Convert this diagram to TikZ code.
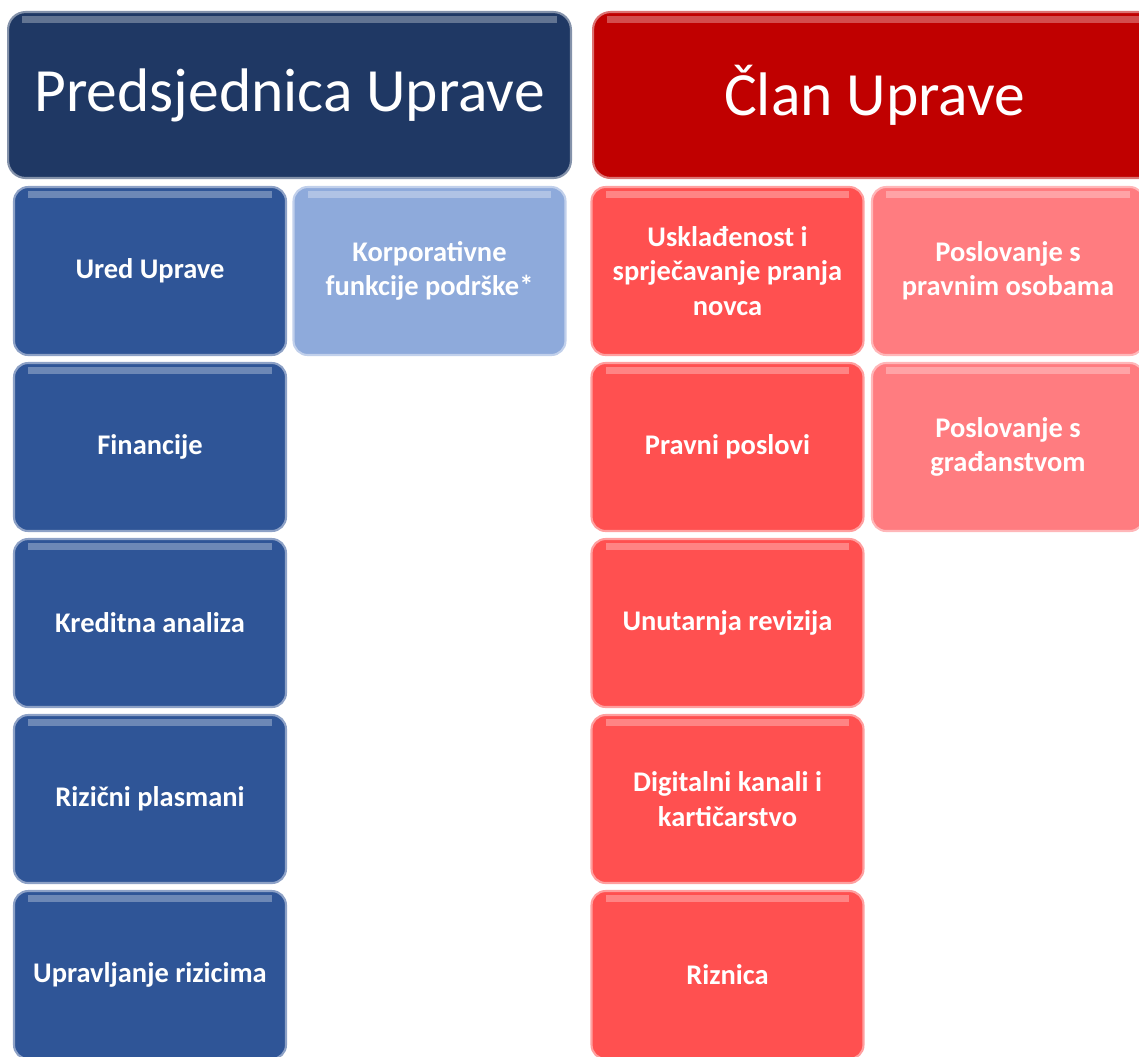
\documentclass[tikz,border=0pt]{standalone}
\usepackage{fontspec}
\setmainfont{Carlito}
\usetikzlibrary{positioning}
\definecolor{presnavy}{HTML}{1F3864}
\definecolor{clanred}{HTML}{C00000}
\definecolor{unitblue}{HTML}{2F5597}
\definecolor{supblue}{HTML}{8EAADB}
\definecolor{unitred}{HTML}{FF5050}
\definecolor{supred}{HTML}{FF7C80}

\begin{document}
\begin{tikzpicture}[x=0.02cm,y=-0.02cm,
  gloss/.style={path picture={
    \fill[white,opacity=0.3,sharp corners] ([xshift=8pt,yshift=-2.5pt]path picture bounding box.north west)
      rectangle ([xshift=-8pt,yshift=-6pt]path picture bounding box.north east);}},
  head/.style={gloss,rounded corners=10pt,line width=1.2pt,minimum width=11.26cm,
    minimum height=3.32cm,text=white,font=\fontsize{35}{42}\selectfont},
  unit/.style={gloss,rounded corners=8pt,line width=1.2pt,minimum width=5.44cm,
    minimum height=3.36cm,text=white,align=center,
    font=\bfseries\fontsize{16.2}{19.5}\selectfont},
  bluebox/.style={unit,fill=unitblue,draw=unitblue!55!white},
  redbox/.style={unit,fill=unitred,draw=unitred!55!white}]
\useasboundingbox (0,0) rectangle (1139,1056);
\clip (0,0) rectangle (1139,1056);

% heads
\node[head,fill=presnavy,draw=presnavy!55!white] (pres) at (289.5,95) {Predsjednica Uprave};
\node[head,fill=clanred,draw=clanred!55!white] (clan) at (874.5,95) {Član Uprave};

% president's column
\foreach \lbl [count=\i] in {Ured Uprave,Financije,Kreditna analiza,Rizični plasmani,Upravljanje rizicima}
  \node[bluebox] (p\i) at (150,95+176*\i) {\lbl};
\node[unit,fill=supblue,draw=supblue!55!white] (pk) at (429.5,271) {Korporativne\\funkcije podrške*};

% member's column
\foreach \lbl [count=\i] in {Usklađenost i\\sprječavanje pranja\\novca,Pravni poslovi,Unutarnja revizija,Digitalni kanali i\\kartičarstvo,Riznica}
  \node[redbox] (c\i) at (727.5,95+176*\i) {\lbl};
\node[unit,fill=supred,draw=supred!55!white] (cp) at (1008,271) {Poslovanje s\\pravnim osobama};
\node[unit,fill=supred,draw=supred!55!white] (cg) at (1008,447) {Poslovanje s\\građanstvom};
\end{tikzpicture}
\end{document}
